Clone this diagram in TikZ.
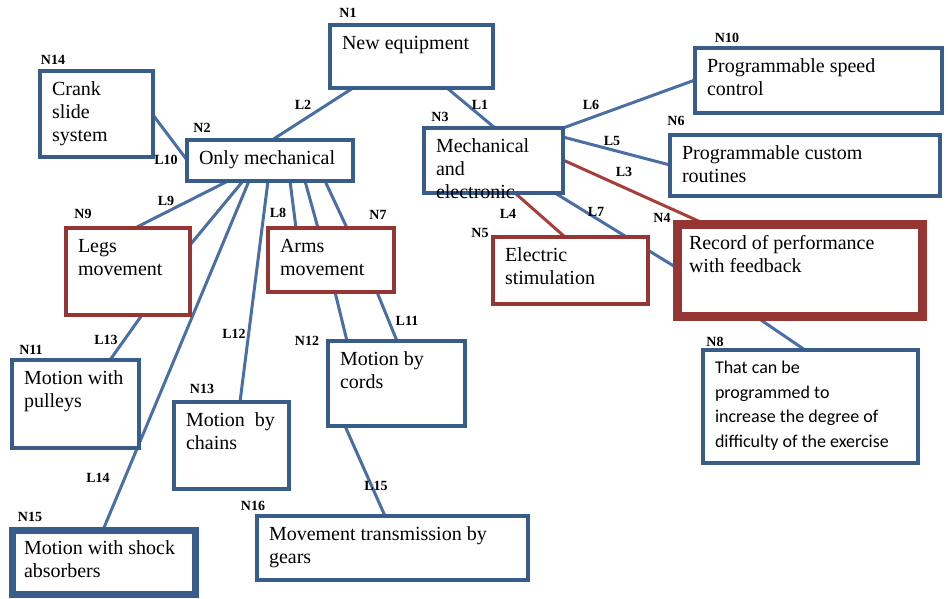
\documentclass[tikz,border=0pt]{standalone}
\usepackage{fontspec}
\setmainfont{Liberation Serif}
\newfontfamily\calfont{Carlito}

\definecolor{boxblue}{RGB}{56,93,138}
\definecolor{boxred}{RGB}{150,54,52}
\definecolor{lineblue}{RGB}{74,111,165}
\definecolor{linered}{RGB}{168,62,58}

\pgfdeclarelayer{background}
\pgfsetlayers{background,main}

\tikzstyle{box} = [draw=boxblue, line width=3.5pt, fill=white, anchor=north west, outer sep=0pt, inner xsep=12pt, inner ysep=11pt, font=\fontsize{20}{23}\selectfont]
\tikzstyle{redbox} = [box, draw=boxred]
\tikzstyle{tag} = [inner sep=0pt, font=\fontsize{14}{14}\selectfont\bfseries]
\tikzstyle{link} = [draw=lineblue, line width=3pt]
\tikzstyle{redlink} = [link, draw=linered]

% text block of a box: width, height, lines
\newcommand{\btext}[3]{\parbox[t][#2pt][t]{#1pt}{\raggedright #3}}

\begin{document}
\begin{tikzpicture}[x=1pt, y=-1pt]
\useasboundingbox (0,0) rectangle (948,598);

\node [box, line width=4pt] (n1) at (330,25) {\btext{139}{41}{New equipment}};
\node [box] (n14) at (40,71) {\btext{89}{64}{Crank\\slide\\system}};
\node [box] (n2) at (187,140) {\btext{142}{19}{Only mechanical}};
\node [box] (n3) at (424,128) {\btext{115}{43}{Mechanical\\and\\electronic}};
\node [box] (n10) at (695,48) {\btext{223}{43}{Programmable speed\\control}};
\node [box] (n6) at (670,135) {\btext{246}{39}{Programmable custom\\routines}};
\node [redbox] (n9) at (66,228) {\btext{100}{65}{Legs\\movement}};
\node [redbox] (n7) at (268,228) {\btext{102}{42}{Arms\\movement}};
\node [redbox] (n5) at (493,237) {\btext{131}{45}{Electric\\stimulation}};
\node [redbox, line width=9pt] (n4) at (677,224) {\btext{221}{70}{Record of performance\\with feedback}};
\node [box, font=\calfont\fontsize{18}{24.5}\selectfont] (n8) at (703,350) {\btext{191}{91}{That can be\\programmed to\\increase the degree of\\difficulty of the exercise}};
\node [box] (n11) at (12,360) {\btext{103}{66}{Motion with\\pulleys}};
\node [box] (n13) at (174,402) {\btext{91}{65}{Motion~~by\\chains}};
\node [box] (n12) at (328,341) {\btext{113}{63}{Motion by\\cords}};
\node [box] (n16) at (257,516) {\btext{247}{42}{Movement transmission by\\gears}};
\node [box, line width=7pt] (n15) at (12,530) {\btext{159}{42}{Motion with shock\\absorbers}};

% node numbers
\node [tag] (t1) at (348,13) {N1};
\node [tag] (t2) at (202,128) {N2};
\node [tag] (t3) at (440,117) {N3};
\node [tag] (t4) at (662,218) {N4};
\node [tag] (t5) at (480,233) {N5};
\node [tag] (t6) at (676,121) {N6};
\node [tag] (t7) at (378,215) {N7};
\node [tag] (t8) at (715,342) {N8};
\node [tag] (t9) at (83,214) {N9};
\node [tag] (t10) at (727,38) {N10};
\node [tag] (t11) at (31,350) {N11};
\node [tag] (t12) at (307,341) {N12};
\node [tag] (t13) at (202,389) {N13};
\node [tag] (t14) at (53,60) {N14};
\node [tag] (t15) at (30,517) {N15};
\node [tag] (t16) at (253,506) {N16};

% link numbers
\node [tag] (l1) at (480,105) {L1};
\node [tag] (l2) at (303,105) {L2};
\node [tag] (l3) at (624,172) {L3};
\node [tag] (l4) at (508,214) {L4};
\node [tag] (l5) at (612,141) {L5};
\node [tag] (l6) at (591,105) {L6};
\node [tag] (l7) at (596,212) {L7};
\node [tag] (l8) at (278,213) {L8};
\node [tag] (l9) at (166,201) {L9};
\node [tag] (l10) at (166,160) {L10};
\node [tag] (l11) at (407,321) {L11};
\node [tag] (l12) at (234,334) {L12};
\node [tag] (l13) at (106,340) {L13};
\node [tag] (l14) at (98,478) {L14};
\node [tag] (l15) at (376,486) {L15};

\begin{pgfonlayer}{background}
\draw [link] ([xshift=117pt]n1.south west) -- ([xshift=71pt]n3.north west);
\draw [link] ([xshift=23pt]n1.south west) -- ([xshift=85pt]n2.north west);
\draw [link] ([yshift=-44pt]n14.north east) -- ([yshift=-20pt]n2.north west);
\draw [link] (n3.north east) -- ([yshift=-32pt]n10.north west);
\draw [link] ([yshift=-9pt]n3.north east) -- ([yshift=-30pt]n6.north west);
\draw [redlink] ([yshift=-32pt]n3.north east) -- ([xshift=28pt]n4.north west);
\draw [redlink] ([xshift=91pt]n3.south west) -- ([xshift=72pt]n5.north west);
\draw [link] ([xshift=131pt]n3.south west) -- ([yshift=-44pt]n4.north west);
\draw [link] ([xshift=78pt]n4.south west) -- ([xshift=102pt]n8.north west);
\draw [link] ([xshift=41pt]n2.south west) -- ([xshift=69pt]n9.north west);
\draw [link] ([xshift=56pt]n2.south west) -- ([yshift=-17pt]n9.north east);
\draw [link] ([xshift=62pt]n2.south west) -- ([xshift=91pt]n15.north west);
\draw [link] ([xshift=81pt]n2.south west) -- ([xshift=66pt]n13.north west);
\draw [link] ([xshift=103pt]n2.south west) -- ([xshift=28pt]n7.north west);
\draw [link] ([xshift=118pt]n2.south west) -- ([xshift=50pt]n7.north west);
\draw [link] ([xshift=138pt]n2.south west) -- ([xshift=79pt]n7.north west);
\draw [link] ([xshift=76pt]n9.south west) -- ([xshift=98pt]n11.north west);
\draw [link] ([xshift=67pt]n7.south west) -- ([xshift=19pt]n12.north west);
\draw [link] ([xshift=109pt]n7.south west) -- ([xshift=69pt]n12.north west);
\draw [link] ([xshift=17pt]n12.south west) -- ([xshift=128pt]n16.north west);
\end{pgfonlayer}
\end{tikzpicture}
\end{document}
